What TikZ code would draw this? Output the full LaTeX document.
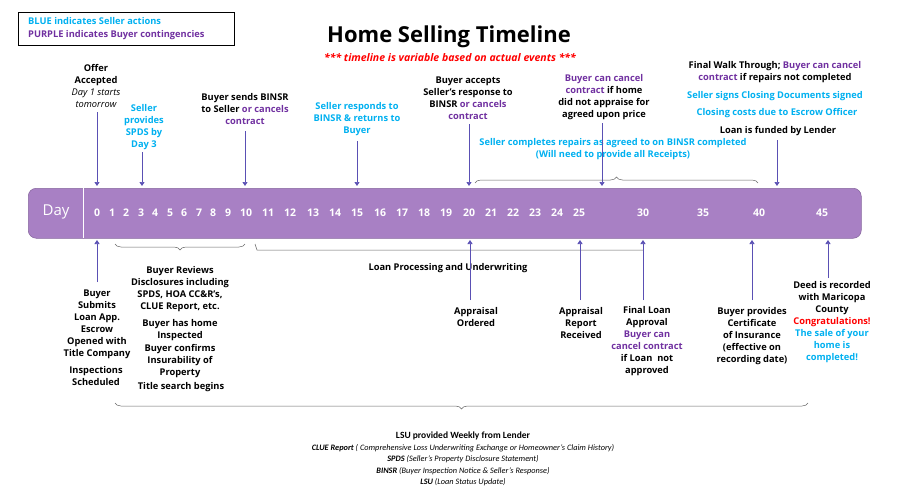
\documentclass[tikz,border=0pt]{standalone}
\usepackage{fontspec}
\setmainfont{Carlito}
\newfontfamily\os{Open Sans}
\usetikzlibrary{arrows.meta,decorations.pathreplacing}
\definecolor{cy}{RGB}{0,176,240}
\definecolor{pu}{RGB}{112,48,160}
\definecolor{barc}{RGB}{168,128,196}
\definecolor{arr}{RGB}{90,80,180}
\tikzset{
 lbl/.style={font=\os\fontsize{9.3}{12}\selectfont\bfseries,align=center,inner sep=1pt},
 ar/.style={arr,line width=0.7pt,-{Triangle[width=5pt,length=4pt]}},
 br/.style={draw=black!60,line width=0.5pt,decorate,decoration={brace,amplitude=6pt}},
 num/.style={white,font=\os\fontsize{10.5}{12}\selectfont\bfseries}
}
\begin{document}
\begin{tikzpicture}[x=1pt,y=-1pt]
\useasboundingbox (0,0) rectangle (900,493);
% legend
\node[draw,line width=0.8pt,minimum width=216,minimum height=33,anchor=north west,inner sep=0] (leg) at (18,12) {};
\node[lbl,cy,anchor=west] (l1) at (27,21) {BLUE indicates Seller actions};
\node[lbl,pu,anchor=west] (l2) at (27,35) {PURPLE indicates Buyer contingencies};
\node[font=\os\fontsize{22}{24}\selectfont\bfseries] (title) at (449,37) {Home Selling Timeline};
\node[red,font=\os\fontsize{10.5}{12}\selectfont\bfseries\itshape] (sub) at (450,58) {*** timeline is variable based on actual events ***};
% bar
\node[fill=barc,draw=barc!80!black,line width=0.5pt,rounded corners=8pt,minimum width=833,minimum height=50,anchor=north west,inner sep=0] (bar) at (28,188) {};
\draw[white,line width=0.8pt] (83,188) -- (83,238);
\node[white,font=\os\fontsize{15}{16}\selectfont] (day) at (56,212) {Day};
\foreach \n/\x in {0/97,1/112,2/126,3/141,4/155,5/170,6/184,7/199,8/213,9/228,10/246,11/268,12/290,13/313,14/335,15/357,16/380,17/402,18/424,19/446,20/469,21/491,22/513,23/535,24/557,25/579,30/643,35/703,40/759,45/822}
  \node[num] (n\n) at (\x,213) {\n};
% top labels
\node[lbl] (t1) at (96,86) {Offer\\Accepted\\{\mdseries\itshape Day 1 starts}\\{\mdseries\itshape tomorrow}};
\node[lbl,cy] (t2) at (144,127) {Seller\\provides\\SPDS by\\Day 3};
\node[lbl] (t3) at (245,109) {Buyer sends BINSR\\to Seller \textcolor{pu}{or cancels}\\\textcolor{pu}{contract}};
\node[lbl,cy] (t4) at (357,119) {Seller responds to\\BINSR \& returns to\\Buyer};
\node[lbl] (t5) at (468,98) {Buyer accepts\\Seller’s response to\\BINSR \textcolor{pu}{or cancels}\\\textcolor{pu}{contract}};
\node[lbl] (t6) at (604,97) {\textcolor{pu}{Buyer can cancel}\\\textcolor{pu}{contract} if home\\did not appraise for\\agreed upon price};
\node[lbl] (t7) at (775,72) {Final Walk Through; \textcolor{pu}{Buyer can cancel}\\\textcolor{pu}{contract} if repairs not completed};
\node[lbl,cy] (t8) at (775,96) {Seller signs Closing Documents signed};
\node[lbl,cy] (t9) at (777,113) {Closing costs due to Escrow Officer};
\node[lbl] (t10) at (778,131) {Loan is funded by Lender};
\node[lbl,cy] (t11) at (613,149) {Seller completes repairs as agreed to on BINSR completed\\(Will need to provide all Receipts)};
\coordinate (a1) at (97,186); \coordinate (a2) at (142,186); \coordinate (a3) at (245,186);
\coordinate (a4) at (357,186); \coordinate (a5) at (469,186); \coordinate (a6) at (602,186);
\coordinate (a7) at (777,186);
\draw[ar] (97,112) -- (a1);
\draw[ar] (142,152) -- (a2);
\draw[ar] (245,131) -- (a3);
\draw[ar] (357,141) -- (a4);
\draw[ar] (469,124) -- (a5);
\draw[ar] (602,123) -- (a6);
\draw[ar] (777,140) -- (a7);
\draw[br] (475,183) -- (758,183);
% bottom braces
\draw[br] (245,244) -- (115,244);
\draw[black!60,line width=0.5pt] (255,244) -- (257,250) -- (643,250);
\node[lbl] (lp) at (448,268) {Loan Processing and Underwriting};
\draw[br] (808,403) -- (115,403);
% bottom arrows
\coordinate (b1) at (97,240); \coordinate (b2) at (470,240); \coordinate (b3) at (580,240);
\coordinate (b4) at (643,240); \coordinate (b5) at (752,240); \coordinate (b6) at (828,240);
\draw[ar] (97,282) -- (b1);
\draw[ar] (470,300) -- (b2);
\draw[ar] (580,300) -- (b3);
\draw[ar] (643,300) -- (b4);
\draw[ar] (752,300) -- (b5);
\draw[ar] (828,278) -- (b6);
% bottom labels
\node[lbl] (d1) at (97,324) {Buyer\\Submits\\Loan App.\\Escrow\\Opened with\\Title Company};
\node[lbl] (d2) at (96,376) {Inspections\\Scheduled};
\node[lbl] (d3) at (180,289) {Buyer Reviews\\Disclosures including\\SPDS, HOA CC\&R’s,\\CLUE Report, etc.};
\node[lbl] (d4) at (180,330) {Buyer has home\\Inspected};
\node[lbl] (d5) at (180,361) {Buyer confirms\\Insurability of\\Property};
\node[lbl] (d6) at (181,387) {Title search begins};
\node[lbl] (d7) at (476,317) {Appraisal\\Ordered};
\node[lbl] (d8) at (581,323) {Appraisal\\Report\\Received};
\node[lbl] (d9) at (647,341) {Final Loan\\Approval\\\textcolor{pu}{Buyer can}\\\textcolor{pu}{cancel contract}\\if Loan\ \ not\\approved};
\node[lbl] (d10) at (752,336) {Buyer provides\\Certificate\\of Insurance\\(effective on\\recording date)};
\node[lbl] (d11) at (832,322) {Deed is recorded\\with Maricopa\\County\\\textcolor{red}{Congratulations!}\\\textcolor{cy}{The sale of your}\\\textcolor{cy}{home is}\\\textcolor{cy}{completed!}};
% LSU
\node[font=\fontsize{9.5}{12}\selectfont\bfseries] (lsu) at (463,436) {LSU provided Weekly from Lender};
\node[font=\fontsize{8.3}{11.5}\selectfont\itshape,align=center] (glos) at (463,465) {\textbf{CLUE Report} ( Comprehensive Loss Underwriting Exchange or Homeowner’s Claim History)\\\textbf{SPDS} (Seller’s Property Disclosure Statement)\\\textbf{BINSR} (Buyer Inspection Notice \& Seller’s Response)\\\textbf{LSU} (Loan Status Update)};
\end{tikzpicture}
\end{document}
